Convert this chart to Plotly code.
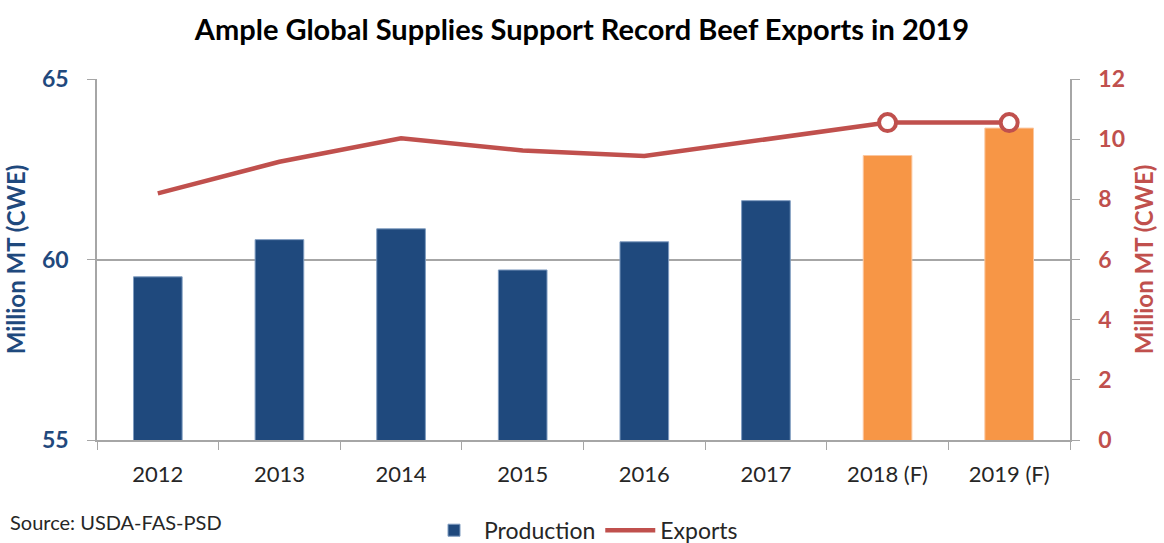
import plotly.graph_objects as go

years = ["2012", "2013", "2014", "2015", "2016", "2017", "2018 (F)", "2019 (F)"]
production = [59.52, 60.55, 60.85, 59.71, 60.49, 61.63, 62.88, 63.64]
exports = [8.20, 9.25, 10.03, 9.62, 9.44, 10.0, 10.55, 10.55]
forecast = [False, False, False, False, False, False, True, True]

NAVY = "#1F497D"
ORANGE = "#F79646"
RED = "#C0504D"
GRID = "#A6A6A6"
FONT = "Lato"

bar_colors = [ORANGE if f else NAVY for f in forecast]
bar_lines = ["#FBC79F" if f else "#7F9CC0" for f in forecast]

fig = go.Figure()
fig.add_trace(go.Bar(
    x=years, y=production, name="Production",
    marker=dict(color=bar_colors, line=dict(color=bar_lines, width=1)),
    yaxis="y",
))
fig.add_trace(go.Scatter(
    x=years, y=exports, name="Exports", mode="lines",
    line=dict(color=RED, width=4.5), yaxis="y2",
))
fc_x = [x for x, f in zip(years, forecast) if f]
fc_y = [y for y, f in zip(exports, forecast) if f]
fig.add_trace(go.Scatter(
    x=fc_x, y=fc_y, mode="markers", showlegend=False,
    marker=dict(symbol="circle", size=17, color="white", line=dict(color=RED, width=4)),
    yaxis="y2",
))

fig.update_layout(
    width=1164, height=543,
    margin=dict(l=97, r=94, t=79, b=103, autoexpand=False),
    paper_bgcolor="white", plot_bgcolor="white",
    font=dict(family=FONT, color="#262626"),
    title=dict(text="<b>Ample Global Supplies Support Record Beef Exports in 2019</b>",
               x=0.5, xanchor="center", y=0.945, yanchor="middle",
               font=dict(size=29, color="black", family=FONT, weight="bold")),
    bargap=0.6,
    showlegend=True,
    legend=dict(orientation="h", x=0.5, xanchor="center", y=-0.25, yanchor="middle",
                xref="paper", font=dict(size=23, color="#262626", family=FONT),
                itemwidth=50, traceorder="normal"),
    xaxis=dict(
        type="category", showline=True, linecolor=GRID, linewidth=1.5,
        ticks="outside", tickson="boundaries", ticklen=8, tickcolor=GRID,
        ticklabelstandoff=14,
        tickfont=dict(size=22, color="#262626", family=FONT),
        showgrid=False,
    ),
    yaxis=dict(
        range=[55, 65], dtick=5, tick0=55,
        showline=True, linecolor=GRID, linewidth=1.5,
        ticks="outside", ticklen=8, tickcolor=GRID,
        ticklabelstandoff=14,
        showgrid=True, gridcolor=GRID, gridwidth=1.5,
        zeroline=False,
        tickfont=dict(size=23, color=NAVY, family=FONT, weight="bold"),
        title=dict(text="<b>Million MT (CWE)</b>",
                   font=dict(size=24, color=NAVY, family=FONT, weight="bold"), standoff=10),
    ),
    yaxis2=dict(
        range=[0, 12], dtick=2, tick0=0, overlaying="y", side="right",
        showline=True, linecolor=GRID, linewidth=1.5,
        ticks="outside", ticklen=8, tickcolor=GRID,
        ticklabelstandoff=14,
        showgrid=False, zeroline=False,
        tickfont=dict(size=23, color=RED, family=FONT, weight="bold"),
        title=dict(text="<b>Million MT (CWE)</b>",
                   font=dict(size=24, color=RED, family=FONT, weight="bold"), standoff=12),
    ),
)

fig.add_annotation(
    text="Source: USDA-FAS-PSD", xref="paper", yref="paper",
    x=-89/973, y=-82/361, xanchor="left", yanchor="middle", showarrow=False,
    font=dict(size=20, color="#262626", family=FONT),
)

fig.write_html("out.html")
